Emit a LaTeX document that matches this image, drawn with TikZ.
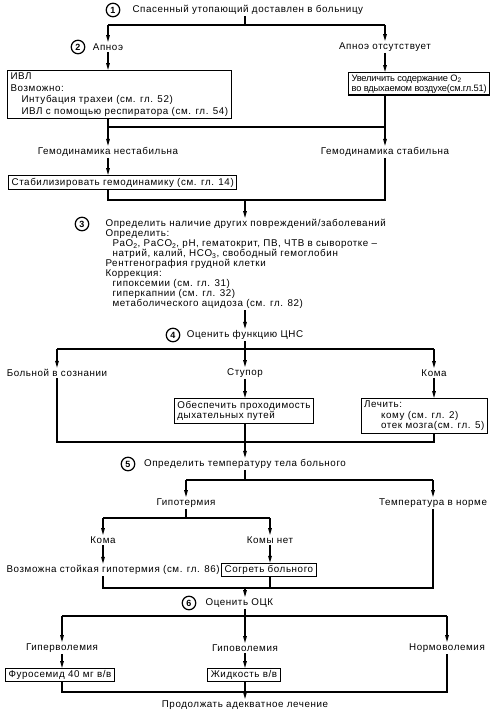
\documentclass[tikz,border=0pt]{standalone}
\usepackage{fontspec}
\setmainfont{Liberation Sans}[LetterSpace=6]
\usetikzlibrary{arrows.meta, positioning}

\begin{document}
\begin{tikzpicture}[x=1pt, y=-1pt,
  font=\fontsize{9.8}{10}\selectfont,
  line width=1.1pt,
  txt/.style={inner sep=1pt},
  box/.style={draw, line width=1.2pt, align=left, anchor=north west,
              inner xsep=3pt, inner ysep=2.5pt},
  num/.style={draw, circle, line width=1.2pt, minimum size=13.5pt, inner sep=0pt,
              font=\bfseries\fontsize{9}{9}\selectfont},
  arrow/.style={-{Triangle[length=7pt,width=3.6pt]}}
]
\useasboundingbox (0,0) rectangle (491,712);

%% Step 1: admission
\node[num] (n1) at (113,10) {1};
\node[txt, anchor=west] (admit) at (131,10) {Спасенный утопающий доставлен в больницу};
\coordinate (c1m) at (245,25);
\coordinate (c1l) at (108,25);
\coordinate (c1r) at (385,25);
\draw (c1m |- admit.south) -- (c1m);
\draw (c1l) -- (c1r);

%% Step 2: apnoea
\node[txt] (apnoea) at (108,47) {Апноэ};
\node[num] (n2) at (78,47) {2};
\node[txt] (noapnoea) at (385,47) {Апноэ отсутствует};
\draw[arrow] (c1l) -- (apnoea.north);
\draw[arrow] (c1r) -- (noapnoea.north);

\node[box, font=\fontsize{9.8}{11.4}\selectfont] (ivl) at (7,70)
  {ИВЛ\\Возможно:\\\hspace*{11pt}Интубация трахеи (см. гл. 52)\\
   \hspace*{11pt}ИВЛ с помощью респиратора (см. гл. 54)};
\node[box, inner ysep=2pt, font=\fontsize{9.3}{10}\selectfont\addfontfeature{LetterSpace=-2}] (oxygen) at (348,72)
  {Увеличить содержание O\textsubscript{2}\\во вдыхаемом воздухе(см.гл.51)};
\draw[arrow] (apnoea.south) -- (apnoea |- ivl.north);
\draw[arrow] (noapnoea.south) -- (noapnoea |- oxygen.north);

%% haemodynamics
\coordinate (c2l) at (108,127);
\coordinate (c2r) at (385,127);
\node[txt] (unstable) at (108,152) {Гемодинамика нестабильна};
\node[txt] (stable) at (385,152) {Гемодинамика стабильна};
\draw (c2l |- ivl.south) -- (c2l) -- (c2r);
\draw[arrow] (c2l) -- (unstable.north);
\draw[arrow] (c2r |- oxygen.south) -- (stable.north);

\node[box] (stab) at (8,175) {Стабилизировать гемодинамику (см. гл. 14)};
\draw[arrow] (unstable.south) -- (unstable |- stab.north);

\coordinate (c3l) at (108,200);
\coordinate (c3m) at (245,200);
\coordinate (c3r) at (385,200);
\draw (c3l |- stab.south) -- (c3l) -- (c3r) -- (stable.south);

%% Step 3: other injuries
\node[txt, align=left, anchor=north west] (other) at (104,218)
  {Определить наличие других повреждений/заболеваний\\
   Определить:\\
   \hspace*{7pt}PaO\textsubscript{2}, PaCO\textsubscript{2}, pH, гематокрит, ПВ, ЧТВ в сыворотке –\\
   \hspace*{7pt}натрий, калий, HCO\textsubscript{3}, свободный гемоглобин\\
   Рентгенография грудной клетки\\
   Коррекция:\\
   \hspace*{7pt}гипоксемии (см. гл. 31)\\
   \hspace*{7pt}гиперкапнии (см. гл. 32)\\
   \hspace*{7pt}метаболического ацидоза (см. гл. 82)};
\node[num] (n3) at (82,224) {3};
\draw[arrow] (c3m) -- (c3m |- other.north);

%% Step 4: CNS
\node[txt] (cns) at (245,335) {Оценить функцию ЦНС};
\node[num] (n4) at (173,335) {4};
\draw[arrow] (cns |- other.south) -- (cns.north);

\coordinate (c4l) at (57,349);
\coordinate (c4m) at (245,349);
\coordinate (c4r) at (434,349);
\draw (cns.south) -- (c4m);
\draw (c4l) -- (c4r);
\node[txt] (conscious) at (57,373) {Больной в сознании};
\node[txt] (stupor) at (245,373) {Ступор};
\node[txt] (coma) at (434,373) {Кома};
\draw[arrow] (c4l) -- (conscious.north);
\draw[arrow] (c4m) -- (stupor.north);
\draw[arrow] (c4r) -- (coma.north);

\node[box, anchor=north, font=\fontsize{9.8}{10.5}\selectfont] (airway) at (244,398)
  {Обеспечить проходимость\\дыхательных путей};
\node[box, anchor=north east, font=\fontsize{9.8}{10.5}\selectfont] (treat) at (488,398)
  {Лечить:\\\hspace*{17pt}кому (см. гл. 2)\\\hspace*{17pt}отек мозга(см. гл. 5)};
\draw[arrow] (stupor.south) -- (stupor |- airway.north);
\draw[arrow] (coma.south) -- (coma |- treat.north);

\coordinate (c5l) at (57,442);
\coordinate (c5m) at (245,442);
\coordinate (c5r) at (434,442);
\draw (conscious.south) -- (c5l) -- (c5r) -- (c5r |- treat.south);
\draw (c5m |- airway.south) -- (c5m);

%% Step 5: temperature
\node[txt] (temp) at (245,464) {Определить температуру тела больного};
\node[num] (n5) at (128,464) {5};
\draw[arrow] (c5m) -- (temp.north);

\coordinate (c6l) at (186,480);
\coordinate (c6m) at (245,480);
\coordinate (c6r) at (433,480);
\draw (temp.south) -- (c6m);
\draw (c6l) -- (c6r);
\node[txt] (hypoth) at (186,503) {Гипотермия};
\node[txt] (normtemp) at (433,503) {Температура в норме};
\draw[arrow] (c6l) -- (hypoth.north);
\draw[arrow] (c6r) -- (normtemp.north);

\coordinate (c7l) at (103,518);
\coordinate (c7r) at (270,518);
\draw (hypoth.south) -- (hypoth |- c7l);
\draw (c7l) -- (c7r);
\node[txt] (hcoma) at (103,540) {Кома};
\node[txt] (hnocoma) at (270,540) {Комы нет};
\draw[arrow] (c7l) -- (hcoma.north);
\draw[arrow] (c7r) -- (hnocoma.north);

\node[txt, anchor=west] (persist) at (5,570) {Возможна стойкая гипотермия (см. гл. 86)};
\node[box, anchor=west, inner ysep=2pt] (warm) at (221,570) {Согреть больного};
\draw[arrow] (hcoma.south) -- (hcoma |- persist.north);
\draw[arrow] (hnocoma.south) -- (hnocoma |- warm.north);

\coordinate (c8l) at (103,588);
\coordinate (c8m) at (245,588);
\coordinate (c8r) at (433,588);
\draw (c8l |- persist.south) -- (c8l) -- (c8r) -- (normtemp.south);
\draw (hnocoma |- warm.south) -- (hnocoma |- c8l);

%% Step 6: circulating volume
\node[txt, anchor=west] (volume) at (204,603) {Оценить ОЦК};
\node[num] (n6) at (189,603) {6};
\draw[arrow] (c8m) -- (c8m |- volume.north);

\coordinate (c9l) at (62,616);
\coordinate (c9m) at (245,616);
\coordinate (c9r) at (447,616);
\draw (c9m |- volume.south) -- (c9m);
\draw (c9l) -- (c9r);
\node[txt] (hyper) at (62,648) {Гиперволемия};
\node[txt] (hypov) at (245,648) {Гиповолемия};
\node[txt] (normv) at (447,648) {Нормоволемия};
\draw[arrow] (c9l) -- (hyper.north);
\draw[arrow] (c9m) -- (hypov.north);
\draw[arrow] (c9r) -- (normv.north);

\node[box, inner ysep=2pt] (furo) at (5,668) {Фуросемид 40 мг в/в};
\node[box, anchor=north, inner ysep=2pt] (fluid) at (244,668) {Жидкость в/в};
\draw[arrow] (hyper.south) -- (hyper |- furo.north);
\draw[arrow] (hypov.south) -- (hypov |- fluid.north);

\coordinate (c10l) at (62,692);
\coordinate (c10r) at (447,692);
\node[txt] (cont) at (245,705) {Продолжать адекватное лечение};
\draw (c10l |- furo.south) -- (c10l) -- (c10r) -- (normv.south);
\draw[arrow] (hypov |- fluid.south) -- (cont.north);

\end{tikzpicture}
\end{document}
